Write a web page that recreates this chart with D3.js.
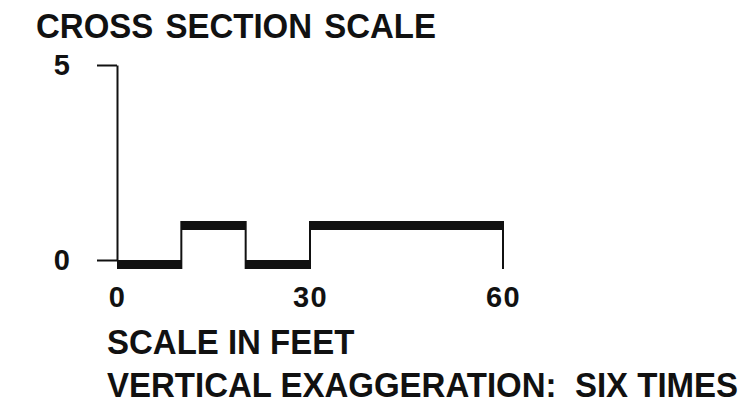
<!DOCTYPE html>
<html>
<head>
<meta charset="utf-8">
<script src="https://cdn.jsdelivr.net/npm/d3@7"></script>
<style>
  body { margin: 0; background: #fff; }
  svg text { font-family: "Liberation Sans", Arial, Helvetica, sans-serif; font-weight: bold; fill: #111; }
</style>
</head>
<body>
<svg id="chart" width="752" height="413"></svg>
<script>
// scale bar segments (feet) and their level
let segStart = [0, 10, 20, 30];
let segEnd = [10, 20, 30, 60];
let segLevel = [0, 1, 0, 1];

let xTicks = [0, 30, 60];
let yTicks = [0, 5];

let titleText = "CROSS SECTION SCALE";
let noteLines = ["SCALE IN FEET", "VERTICAL EXAGGERATION:  SIX TIMES"];

let svg = d3.select("#chart");
let ink = "#111";
let barH = 9;

let x = d3.scaleLinear().domain([0, 60]).range([117, 503]);
let y = d3.scaleLinear().domain([0, 5]).range([260, 65]);

svg.append("rect").attr("width", 752).attr("height", 413).attr("fill", "#fff");

// text is a bit taller than Arial in the scan, stretch it slightly
svg.append("text")
        .attr("transform", "translate(36,38) scale(1,1.08)")
        .style("font-size", "33px")
        .style("word-spacing", "3px")
        .text(titleText);

// left axis: tall line with two ticks
let yAxis = d3.axisLeft(y)
        .tickValues(yTicks)
        .tickFormat(d3.format("d"))
        .tickSize(20)
        .tickSizeOuter(0)
        .tickPadding(27);

let gy = svg.append("g")
        .attr("transform", `translate(${x(0)},0)`)
        .call(yAxis);
gy.select(".domain").attr("stroke", ink).attr("stroke-width", 2);
gy.selectAll(".tick line").attr("stroke", ink).attr("stroke-width", 2);
gy.selectAll(".tick text")
        .style("font-size", "29px")
        .attr("fill", ink);

// bottom labels only
let xAxis = d3.axisBottom(x)
        .tickValues(xTicks)
        .tickFormat(d3.format("d"))
        .tickSize(0)
        .tickPadding(6);

let gx = svg.append("g")
        .attr("transform", "translate(0,280)")
        .call(xAxis);
gx.select(".domain").remove();
gx.selectAll(".tick text")
        .style("font-size", "29px")
        .style("letter-spacing", "1.5px")
        .attr("fill", ink);

let segs = segStart.map((s, i) => ({ s: s, e: segEnd[i], lv: segLevel[i] }));

svg.append("g")
        .selectAll("rect")
        .data(segs)
        .join("rect")
        .attr("x", d => x(d.s))
        .attr("y", d => y(d.lv))
        .attr("width", d => x(d.e) - x(d.s))
        .attr("height", barH)
        .attr("fill", ink);

// thin risers between segments and at the end
let risers = segEnd.map((e, i) => {
        let next = i + 1 < segLevel.length ? segLevel[i + 1] : 0;
        let hi = Math.max(segLevel[i], next);
        let lo = Math.min(segLevel[i], next);
        return { at: e, hi: hi, lo: lo };
});

svg.append("g")
        .selectAll("line")
        .data(risers)
        .join("line")
        .attr("x1", d => x(d.at))
        .attr("x2", d => x(d.at))
        .attr("y1", d => y(d.hi))
        .attr("y2", d => y(d.lo) + barH)
        .attr("stroke", ink)
        .attr("stroke-width", 2);

svg.append("g")
        .selectAll("text")
        .data(noteLines)
        .join("text")
        .attr("transform", (d, i) => `translate(107,${354 + i * 43}) scale(1,1.08)`)
        .style("font-size", "33px")
        .style("white-space", "pre")
        .attr("xml:space", "preserve")
        .text(d => d);
</script>
</body>
</html>
